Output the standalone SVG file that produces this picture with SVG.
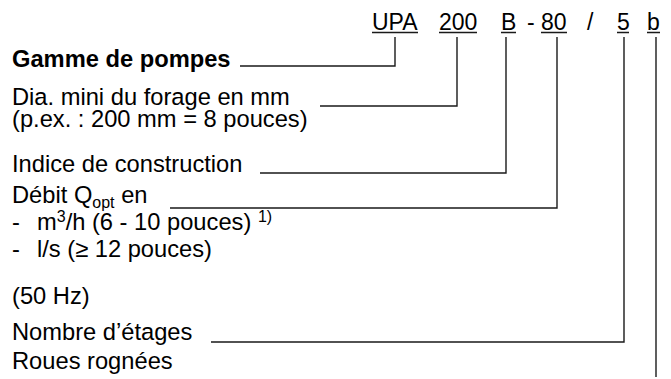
<svg xmlns="http://www.w3.org/2000/svg" width="671" height="379" viewBox="0 0 671 379">
<style>
text{font-family:"Liberation Sans",Arial,Helvetica,sans-serif;font-size:23.7px;fill:#000}
.c{font-size:23px}
.b{font-weight:bold}
.sm{font-size:16px}
.ln{fill:none;stroke:#1a1a1a;stroke-width:1.4}
</style>
<rect width="671" height="379" fill="#fff"/>
<g id="code">
<text class="c" x="372" y="30">UPA</text>
<text class="c" x="439" y="30">200</text>
<text class="c" x="501" y="30">B</text>
<text class="c" x="527" y="30">-</text>
<text class="c" x="541" y="30">80</text>
<text class="c" x="587" y="30">/</text>
<text class="c" x="617" y="30">5</text>
<text class="c" x="647" y="30">b</text>
<path class="ln" d="M372 32.5H418M439 32.5H477M501 32.5H516M541 32.5H567M617 32.5H629M647 32.5H660"/>
</g>
<g id="n1"><text class="b" x="12" y="67">Gamme de pompes</text></g>
<g id="n2"><text x="12" y="105">Dia. mini du forage en mm</text><text x="12" y="127">(p.ex. : 200 mm = 8 pouces)</text></g>
<g id="n3"><text x="12" y="172">Indice de construction</text></g>
<g id="n4"><text x="12" y="203">Débit Q<tspan class="sm" dy="5">opt</tspan><tspan dy="-5"> en</tspan></text>
<text x="12" y="230">-</text><text x="37" y="230">m<tspan class="sm" dy="-8">3</tspan><tspan dy="8">/h (6 - 10 pouces) </tspan><tspan class="sm" dy="-8">1)</tspan></text>
<text x="12" y="257">-</text><text x="37" y="257">l/s (≥ 12 pouces)</text>
<text x="12" y="304">(50 Hz)</text></g>
<g id="n5"><text x="12" y="340">Nombre d’étages</text></g>
<g id="n6"><text x="12" y="369">Roues rognées</text></g>
<g id="connectors">
<path class="ln" d="M240 66H395V37"/>
<path class="ln" d="M320 106H457V37"/>
<path class="ln" d="M260 173H506V37"/>
<path class="ln" d="M170 208H557V37"/>
<path class="ln" d="M211 342H624V37"/>
<path class="ln" d="M656 37V377"/>
</g>
</svg>
